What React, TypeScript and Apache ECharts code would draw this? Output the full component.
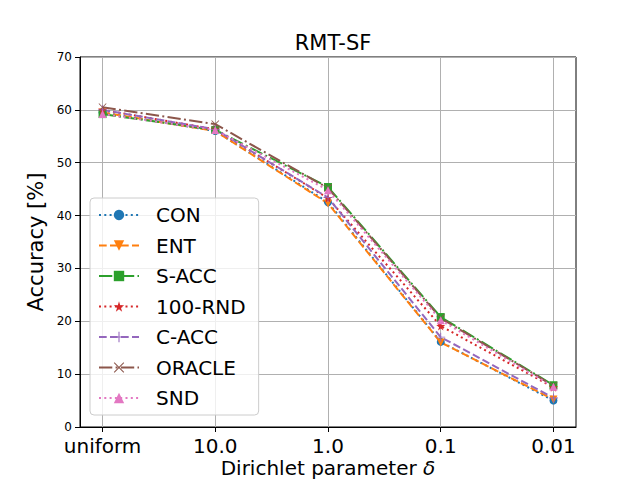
import React, { useEffect, useRef } from "react";
import * as echarts from "echarts";

const categories = ["uniform", "10.0", "1.0", "0.1", "0.01"];
const seriesNames = ["CON", "ENT", "S-ACC", "100-RND", "C-ACC", "ORACLE", "SND"];
const conValues = [59.5, 56.0, 42.5, 16.1, 5.0];
const entValues = [59.5, 56.0, 42.3, 16.0, 5.2];
const saccValues = [59.2, 56.2, 45.4, 20.8, 7.9];
const rndValues = [60.0, 56.3, 43.3, 19.1, 7.5];
const caccValues = [60.0, 56.3, 43.4, 17.0, 5.5];
const oracleValues = [60.5, 57.3, 45.2, 20.6, 7.8];
const sndValues = [59.2, 56.2, 44.8, 20.2, 7.6];
const yTicks = [0, 10, 20, 30, 40, 50, 60, 70];

const STAR =
  "path://M50,0 L61,35 L98,35 L68,57 L79,91 L50,70 L21,91 L32,57 L2,35 L39,35 Z";
const PLUS = "path://M45,0 L55,0 L55,45 L100,45 L100,55 L55,55 L55,100 L45,100 L45,55 L0,55 L0,45 L45,45 Z";
const XMARK =
  "path://M7,0 L50,43 L93,0 L100,7 L57,50 L100,93 L93,100 L50,57 L7,100 L0,93 L43,50 L0,7 Z";

const DOT = [2, 3.3];
const DASH = [7.7, 3.3];
const DASHDOT = [13.3, 3.3, 2, 3.3];

export default function App() {
  const ref = useRef<HTMLDivElement>(null);
  useEffect(() => {
    if (!ref.current) return;
    const chart = echarts.init(ref.current, undefined, { renderer: "svg", width: 640, height: 480 });
    const values = [conValues, entValues, saccValues, rndValues, caccValues, oracleValues, sndValues];
    const colors = ["#1f77b4", "#ff7f0e", "#2ca02c", "#d62728", "#9467bd", "#8c564b", "#e377c2"];
    const dashes = [DOT, DASH, DASHDOT, DOT, DASH, DASHDOT, DOT];
    const symbols = ["circle", "triangle", "rect", STAR, PLUS, XMARK, "triangle"];
    const rotates = [0, 180, 0, 0, 0, 0, 0];
    const sizes = [8, 8, 8, 9, 9, 8, 8];
    const series = seriesNames.map((name, i) => ({
      name,
      type: "line",
      data: values[i].map((v, j) => [j, v]),
      symbol: symbols[i],
      symbolRotate: rotates[i],
      symbolSize: sizes[i],
      showAllSymbol: true,
      color: colors[i],
      lineStyle: { color: colors[i], width: 2, type: dashes[i] },
      itemStyle: { color: colors[i], borderWidth: 0 },
    }));
    chart.setOption({
      animation: false,
      textStyle: { fontFamily: "DejaVu Sans" },
      title: {
        text: "RMT-SF",
        left: 328,
        textAlign: "center",
        top: 27,
        textStyle: { fontSize: 21, fontWeight: "normal", color: "#000", fontFamily: "DejaVu Sans" },
      },
      grid: {
        left: 80,
        right: 64,
        top: 57,
        bottom: 53,
        outerBoundsMode: "none",
        containLabel: false,
        show: true,
        borderColor: "#000",
        borderWidth: 1,
        backgroundColor: "#fff",
      },
      legend: {
        orient: "vertical",
        left: 90,
        top: 198,
        padding: [7, 13, 7, 8],
        itemWidth: 40,
        itemHeight: 13,
        itemGap: 10.5,
        data: seriesNames,
        backgroundColor: "rgba(255,255,255,0.8)",
        borderColor: "#cccccc",
        borderWidth: 1,
        borderRadius: 4,
        textStyle: { fontSize: 20, color: "#000", fontFamily: "DejaVu Sans", padding: [0, 0, 0, 12] },
      },
      xAxis: {
        type: "value",
        min: -0.2,
        max: 4.2,
        name: "Dirichlet parameter {i|δ}",
        nameLocation: "middle",
        nameGap: 31,
        nameMoveOverlap: false,
        nameTextStyle: {
          fontSize: 20,
          lineHeight: 20,
          color: "#000",
          rich: { i: { fontSize: 20, lineHeight: 20, fontStyle: "italic", color: "#000" } },
        },
        axisLine: { show: true, onZero: false, lineStyle: { color: "#000", width: 1 } },
        axisTick: {
          show: true,
          inside: false,
          length: 5,
          customValues: [0, 1, 2, 3, 4],
          lineStyle: { color: "#000" },
        },
        axisLabel: {
          customValues: [0, 1, 2, 3, 4],
          formatter: (v: number) => categories[Math.round(v)] ?? "",
          fontSize: 20,
          lineHeight: 18,
          color: "#000",
          margin: 10,
        },
        splitLine: { show: true, lineStyle: { color: "#b0b0b0", width: 1 } },
      },
      yAxis: {
        type: "value",
        min: yTicks[0],
        max: yTicks[yTicks.length - 1],
        interval: 10,
        name: "Accuracy [%]",
        nameLocation: "middle",
        nameGap: 34,
        nameMoveOverlap: false,
        nameTextStyle: { fontSize: 21, color: "#000" },
        axisLine: { show: true, onZero: false, lineStyle: { color: "#000", width: 1 } },
        axisTick: { show: true, inside: false, length: 5, lineStyle: { color: "#000" } },
        axisLabel: { fontSize: 12, lineHeight: 12, color: "#000", margin: 8 },
        splitLine: { show: true, lineStyle: { color: "#b0b0b0", width: 1 } },
      },
      series,
    });
    return () => chart.dispose();
  }, []);
  return (
    <div
      ref={ref}
      style={{ position: "absolute", left: 0, top: 0, width: 640, height: 480 }}
    />
  );
}
